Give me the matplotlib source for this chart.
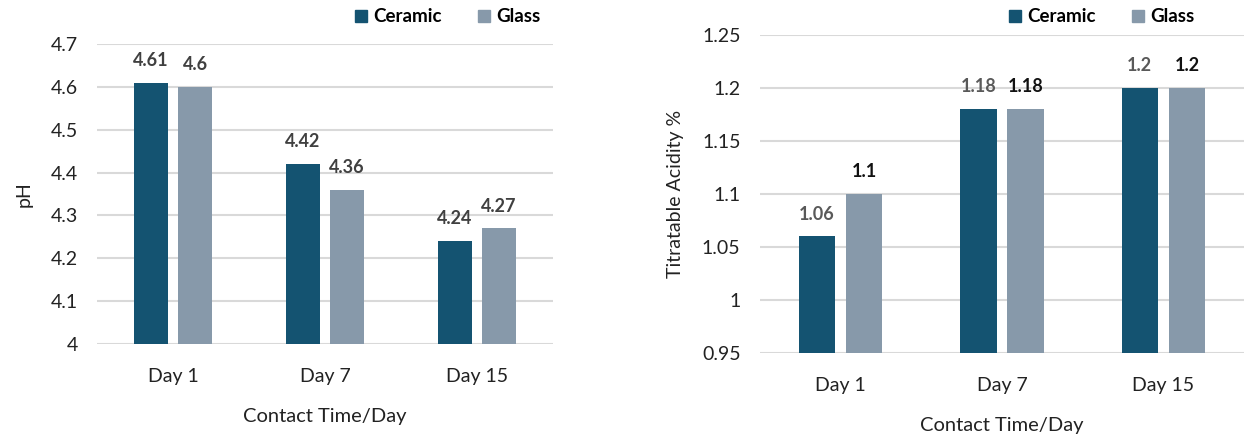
import matplotlib
matplotlib.use("Agg")
import matplotlib.pyplot as plt
import numpy as np
from matplotlib.patches import Patch

categories = ["Day 1", "Day 7", "Day 15"]
ph_ceramic = [4.61, 4.42, 4.24]
ph_glass = [4.60, 4.36, 4.27]
ta_ceramic = [1.06, 1.18, 1.20]
ta_glass = [1.10, 1.18, 1.20]
ph_ticks = [4.0, 4.1, 4.2, 4.3, 4.4, 4.5, 4.6, 4.7]
ph_ticklabels = ["4", "4.1", "4.2", "4.3", "4.4", "4.5", "4.6", "4.7"]
ta_ticks = [0.95, 1.0, 1.05, 1.1, 1.15, 1.2, 1.25]
ta_ticklabels = ["0.95", "1", "1.05", "1.1", "1.15", "1.2", "1.25"]
series_names = ["Ceramic", "Glass"]

C_CER = "#145371"
C_GLA = "#8799aa"
GRID = "#d9d9d9"
plt.rcParams['font.family'] = ['Lato', 'DejaVu Sans']

fig = plt.figure(figsize=(12.44, 4.4), dpi=100)
ax1 = fig.add_axes([97/1244, 1-344/440, 456/1244, 300/440])
ax2 = fig.add_axes([760/1244, 1-353/440, 484/1244, 318/440])

def draw(ax, cer, gla, ticks, ticklabels, ylabel, lab_cols, fmt, ylabelpad):
    x = np.arange(len(categories))
    w = 0.224
    off = (w + 0.068) / 2
    ax.bar(x - off, cer, w, color=C_CER, zorder=3)
    ax.bar(x + off, gla, w, color=C_GLA, zorder=3)
    ax.set_xlim(-0.5, len(categories) - 0.5)
    ax.set_ylim(ticks[0], ticks[-1])
    ax.set_yticks(ticks)
    ax.set_yticklabels(ticklabels)
    ax.set_xticks(x)
    ax.set_xticklabels(categories)
    ax.grid(axis='y', color=GRID, linewidth=1.5, zorder=0)
    ax.set_axisbelow(True)
    for s in ax.spines.values():
        s.set_visible(False)
    ax.tick_params(axis='both', length=0, labelsize=14, colors='#222222')
    ax.tick_params(axis='y', pad=14)
    ax.tick_params(axis='x', pad=17)
    ax.set_ylabel(ylabel, fontsize=14, color='#222222', labelpad=ylabelpad)
    ax.set_xlabel("Contact Time/Day", fontsize=14.5, color='#222222', labelpad=17)
    for i in range(len(categories)):
        for xx, v, col in [(x[i] - off, cer[i], lab_cols[0]), (x[i] + off, gla[i], lab_cols[1])]:
            ax.annotate(fmt(v), (xx, v), xytext=(0, 16), textcoords='offset points',
                        ha='center', va='center', fontsize=13, fontweight='bold',
                        color=col, zorder=4, annotation_clip=False)

fmt = lambda v: f"{v:g}"
draw(ax1, ph_ceramic, ph_glass, ph_ticks, ph_ticklabels, "pH", ["#404040", "#404040"], fmt, 13)
draw(ax2, ta_ceramic, ta_glass, ta_ticks, ta_ticklabels, "Titratable Acidity %", ["#595959", "#111111"], fmt, 13)

handles = [Patch(color=C_CER, label=series_names[0]), Patch(color=C_GLA, label=series_names[1])]
for ax, xy in [(ax1, (355/1244, 1-17/440)), (ax2, (1009/1244, 1-17/440))]:
    fig.legend(handles=handles, loc='center left', bbox_to_anchor=xy, ncol=2, frameon=False,
               prop={'weight': 'bold', 'size': 13.5}, handlelength=0.65, handleheight=0.65,
               handletextpad=0.35, columnspacing=1.9, borderaxespad=0, borderpad=0)

fig.savefig("out.png", dpi=100)
